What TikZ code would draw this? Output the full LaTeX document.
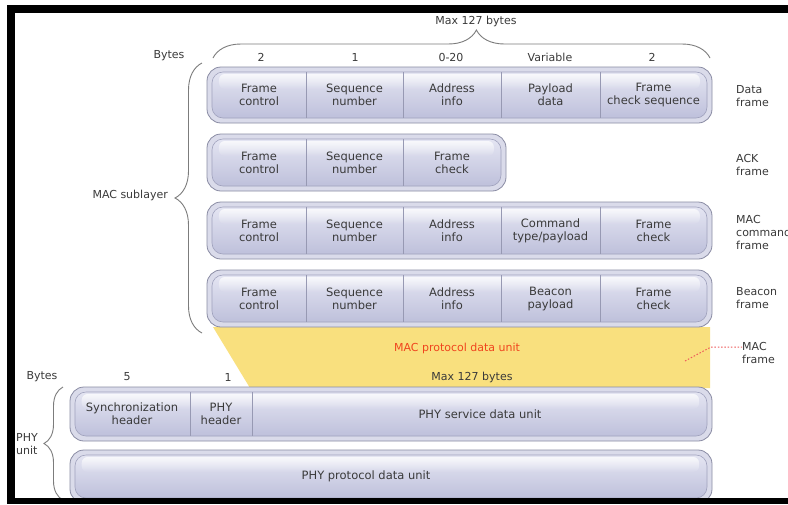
\documentclass[tikz,border=0pt]{standalone}
\usepackage{fontspec}
\setmainfont{DejaVu Sans}
\usetikzlibrary{decorations.pathreplacing,fadings}

\definecolor{txt}{HTML}{3A3A3A}
\definecolor{pilltop}{HTML}{E4E5F2}
\definecolor{pillbot}{HTML}{BEC0DB}
\definecolor{rimfill}{HTML}{DADBEA}
\definecolor{rimline}{HTML}{8A8CA4}
\definecolor{innerline}{HTML}{A0A2BD}
\definecolor{divline}{HTML}{9799B3}
\definecolor{bracegray}{HTML}{7C7C7C}
\definecolor{macyellow}{HTML}{F9E07E}
\definecolor{macred}{HTML}{F0451E}
\definecolor{dotred}{HTML}{EE5A5A}

% rounded, glossy field bar: x1 y1 x2 y2
\newcommand\fieldbar[4]{%
  \draw[rimline, line width=0.8pt, fill=rimfill, rounded corners=14pt] (#1,#2) rectangle (#3,#4);
  \shade[top color=pilltop, bottom color=pillbot, rounded corners=11pt] ({#1+5},{#2+5}) rectangle ({#3-5},{#4-5});
  \fill[white, fill opacity=0.75, path fading=south, rounded corners=6pt] ({#1+12},{#2+7}) rectangle ({#3-12},{#2+22});
  \draw[innerline, line width=0.6pt, rounded corners=11pt] ({#1+5},{#2+5}) rectangle ({#3-5},{#4-5});
}
% vertical separator inside a bar: x y1 y2
\newcommand\fieldsep[3]{%
  \draw[divline, line width=0.6pt] (#1,{#2+5}) -- (#1,{#3-5});
}

\begin{document}
\begin{tikzpicture}[x=1pt,y=-1pt,
  cell/.style={font=\fontsize{11.5}{13}\selectfont, text=txt, align=center, inner sep=0pt},
  lbl/.style={font=\fontsize{11}{13}\selectfont, text=txt, align=left, inner sep=0pt},
  num/.style={font=\fontsize{11}{13}\selectfont, text=txt, inner sep=0pt},
  bracket/.style={draw=bracegray, line width=0.9pt, decorate,
    decoration={brace, amplitude=#1}},
  ]
\useasboundingbox (0,0) rectangle (788,504);
\fill[white] (0,0) rectangle (788,504);

% ---------- MAC protocol data unit band ----------
\fill[macyellow] (213,327) -- (710,327) -- (710,388) -- (250,388) -- cycle;
\node[font=\fontsize{11}{13}\selectfont, text=macred, inner sep=0pt] (mpdu) at (457,348) {MAC protocol data unit};
\node[num] (maxb) at (472,377) {Max 127 bytes};

% ---------- MAC frames ----------
% Data frame
\fieldbar{207}{67}{712}{123}
\fieldsep{306}{67}{123}\fieldsep{403}{67}{123}\fieldsep{501}{67}{123}\fieldsep{600}{67}{123}
\node[cell] (d1) at (259,95) {Frame\\control};
\node[cell] (d2) at (354.5,95) {Sequence\\number};
\node[cell] (d3) at (452,95) {Address\\info};
\node[cell] (d4) at (550.5,95) {Payload\\data};
\node[cell] (d5) at (653.5,95) {Frame\\check sequence};

% ACK frame
\fieldbar{207}{134}{506}{191}
\fieldsep{306}{134}{191}\fieldsep{403}{134}{191}
\node[cell] (a1) at (259,162.5) {Frame\\control};
\node[cell] (a2) at (354.5,162.5) {Sequence\\number};
\node[cell] (a3) at (452,162.5) {Frame\\check};

% MAC command frame
\fieldbar{207}{202}{712}{259}
\fieldsep{306}{202}{259}\fieldsep{403}{202}{259}\fieldsep{501}{202}{259}\fieldsep{600}{202}{259}
\node[cell] (c1) at (259,230.5) {Frame\\control};
\node[cell] (c2) at (354.5,230.5) {Sequence\\number};
\node[cell] (c3) at (452,230.5) {Address\\info};
\node[cell] (c4) at (550.5,230.5) {Command\\type/payload};
\node[cell] (c5) at (653.5,230.5) {Frame\\check};

% Beacon frame
\fieldbar{207}{270}{712}{327}
\fieldsep{306}{270}{327}\fieldsep{403}{270}{327}\fieldsep{501}{270}{327}\fieldsep{600}{270}{327}
\node[cell] (b1) at (259,298.5) {Frame\\control};
\node[cell] (b2) at (354.5,298.5) {Sequence\\number};
\node[cell] (b3) at (452,298.5) {Address\\info};
\node[cell] (b4) at (550.5,298.5) {Beacon\\payload};
\node[cell] (b5) at (653.5,298.5) {Frame\\check};

% frame names on the right
\node[lbl, anchor=west] (ldata) at (736,96.5) {Data\\frame};
\node[lbl, anchor=west] (lack) at (736,164.5) {ACK\\frame};
\node[lbl, anchor=west] (lcmd) at (736,232.5) {MAC\\command\\frame};
\node[lbl, anchor=west] (lbcn) at (736,298.5) {Beacon\\frame};

% byte counts above the MAC fields
\node[num] (tmax) at (476,21) {Max 127 bytes};
\node[num] (tbytes) at (169,56) {Bytes};
\node[num] (n1) at (261,57) {2};
\node[num] (n2) at (355,57) {1};
\node[num] (n3) at (451,57) {0-20};
\node[num] (n4) at (550,57) {Variable};
\node[num] (n5) at (652,57) {2};

% braces
\coordinate (tbl) at (213,58);
\coordinate (tbr) at (710,58);
\draw[bracket=28pt, decoration={aspect=0.53}] (tbl) -- (tbr);

\coordinate (mbb) at (202,333);
\coordinate (mbt) at (202,63);
\draw[bracket=27pt] (mbb) -- (mbt);
\node[lbl, anchor=east] (lmac) at (168,195) {MAC sublayer};

% ---------- PHY ----------
\node[num] (pbytes) at (42,377) {Bytes};
\node[num] (p5) at (127,377) {5};
\node[num] (p1) at (228,377) {1};

\fieldbar{70}{387}{712}{441}
\fieldsep{190}{387}{441}\fieldsep{252}{387}{441}
\node[cell] (s1) at (132,414) {Synchronization\\header};
\node[cell] (s2) at (221,414) {PHY\\header};
\node[cell] (s3) at (480,414) {PHY service data unit};

\fieldbar{70}{450}{712}{503}
\node[cell] (ppdu) at (366,476) {PHY protocol data unit};

\coordinate (pbb) at (63,500);
\coordinate (pbt) at (63,387);
\draw[bracket=19pt] (pbb) -- (pbt);
\node[lbl, anchor=west] (lphy) at (16,444.5) {PHY\\unit};

% MAC frame pointer
\node[lbl, anchor=west] (lmacfr) at (742,352.5) {MAC\\frame};
\coordinate (mfa) at (685,361);
\coordinate (mfb) at (711,347);
\draw[dotred, line width=1pt, dash pattern=on 1.5pt off 1.8pt] (mfa) -- (mfb) -- (lmacfr.west |- mfb);

% ---------- black frame ----------
\fill[black] (7,5) rectangle (788,13);
\fill[black] (7,5) rectangle (15,504);
\fill[black] (7,498) rectangle (788,504);
\end{tikzpicture}
\end{document}
